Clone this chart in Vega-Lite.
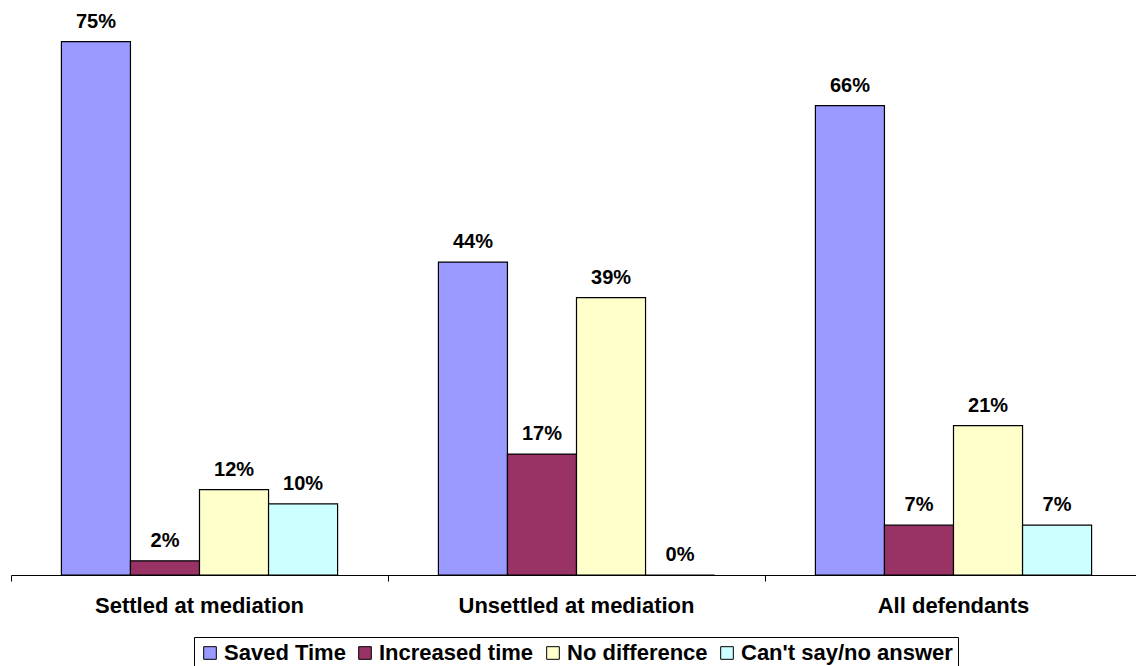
{
  "$schema": "https://vega.github.io/schema/vega-lite/v6.json",
  "width": 1125,
  "height": 569,
  "autosize": "none",
  "padding": {"left": 11, "top": 6, "right": 0, "bottom": 91},
  "background": "white",
  "config": {"view": {"stroke": null}},
  "data": {
    "values": [
      {"group": "Settled at mediation", "response": "Saved Time", "pct": 0.75},
      {"group": "Settled at mediation", "response": "Increased time", "pct": 0.02},
      {"group": "Settled at mediation", "response": "No difference", "pct": 0.12},
      {"group": "Settled at mediation", "response": "Can't say/no answer", "pct": 0.10},
      {"group": "Unsettled at mediation", "response": "Saved Time", "pct": 0.44},
      {"group": "Unsettled at mediation", "response": "Increased time", "pct": 0.17},
      {"group": "Unsettled at mediation", "response": "No difference", "pct": 0.39},
      {"group": "Unsettled at mediation", "response": "Can't say/no answer", "pct": 0.0},
      {"group": "All defendants", "response": "Saved Time", "pct": 0.66},
      {"group": "All defendants", "response": "Increased time", "pct": 0.07},
      {"group": "All defendants", "response": "No difference", "pct": 0.21},
      {"group": "All defendants", "response": "Can't say/no answer", "pct": 0.07}
    ]
  },
  "encoding": {
    "x": {
      "field": "group",
      "type": "nominal",
      "sort": ["Settled at mediation", "Unsettled at mediation", "All defendants"],
      "scale": {"range": [0, 1131], "paddingInner": 0, "paddingOuter": 0},
      "axis": {
        "title": null,
        "labelAngle": 0,
        "bandPosition": 0,
        "domainColor": "black",
        "domainWidth": 1,
        "tickColor": "black",
        "tickSize": 6,
        "labelFont": "Liberation Sans",
        "labelFontSize": 22,
        "labelFontWeight": "bold",
        "labelColor": "black",
        "labelPadding": 14,
        "labelLimit": 500
      }
    },
    "xOffset": {
      "field": "response",
      "sort": ["Saved Time", "Increased time", "No difference", "Can't say/no answer"],
      "scale": {"paddingInner": 0, "paddingOuter": 0.73}
    },
    "y": {
      "field": "pct",
      "type": "quantitative",
      "scale": {"domain": [0, 0.8]},
      "axis": null
    }
  },
  "layer": [
    {
      "mark": {"type": "bar", "stroke": "black", "strokeWidth": 1.2},
      "encoding": {
        "color": {
          "field": "response",
          "type": "nominal",
          "sort": ["Saved Time", "Increased time", "No difference", "Can't say/no answer"],
          "scale": {
            "domain": ["Saved Time", "Increased time", "No difference", "Can't say/no answer"],
            "range": ["#9999FF", "#993366", "#FFFFCC", "#CCFFFF"]
          },
          "legend": {
            "title": null,
            "orient": "none",
            "direction": "horizontal",
            "legendX": 183,
            "legendY": 631,
            "strokeColor": "black",
            "padding": 5,
            "symbolType": "square",
            "symbolSize": 160,
            "symbolStrokeColor": "black",
            "symbolStrokeWidth": 1,
            "labelFont": "Liberation Sans",
            "labelFontSize": 22,
            "labelFontWeight": "bold",
            "labelColor": "black",
            "labelOffset": 3,
            "columnPadding": 8,
            "labelLimit": 400
          }
        }
      }
    },
    {
      "mark": {
        "type": "text",
        "baseline": "alphabetic",
        "dy": -14,
        "font": "Liberation Sans",
        "fontSize": 20,
        "fontWeight": "bold",
        "color": "black"
      },
      "encoding": {
        "text": {"field": "pct", "type": "quantitative", "format": ".0%"}
      }
    }
  ]
}
